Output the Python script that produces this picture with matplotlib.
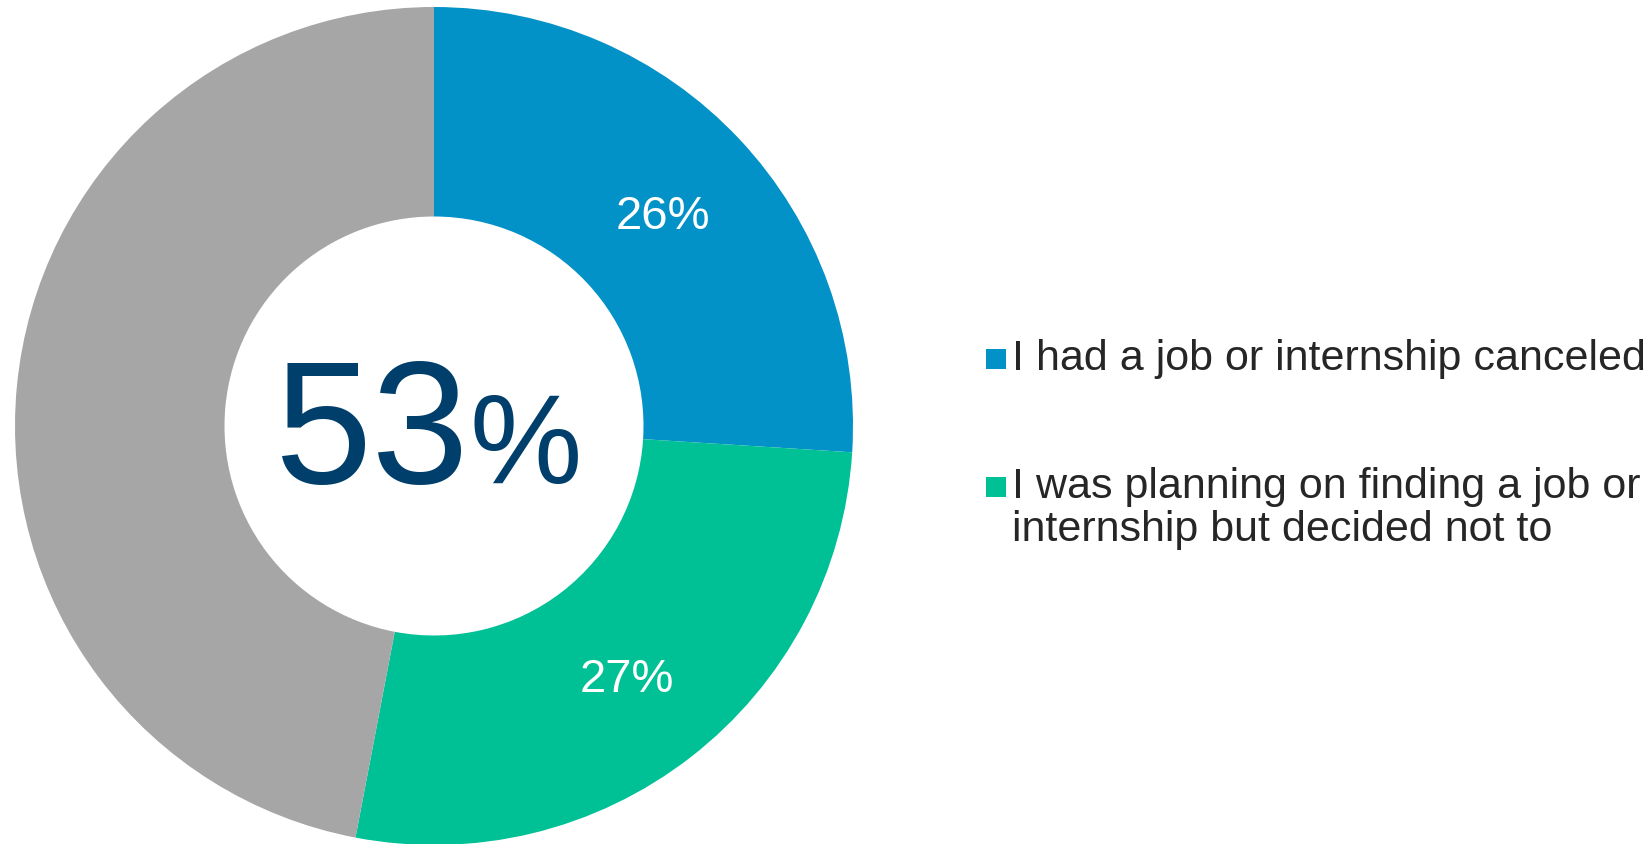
import matplotlib
matplotlib.use("Agg")
import matplotlib.pyplot as plt
from matplotlib.patches import Rectangle
import numpy as np

plt.rcParams['font.family'] = ['Liberation Sans', 'DejaVu Sans']

# Survey shares (percent)
categories = ["I had a job or internship canceled",
              "I was planning on finding a job or\ninternship but decided not to",
              "Other"]
shares = [26, 27, 47]
colors = ["#0392C8", "#00C096", "#A6A6A6"]
slice_labels = ["26%", "27%", ""]
total_affected = 53

W, H = 1650, 845
fig = plt.figure(figsize=(W / 100, H / 100), dpi=100)
fig.patch.set_facecolor("white")

# donut placed on the left: centre (434, 427) px, radius 419 px
cx, cy, r = 434, 427, 419
ax = fig.add_axes([(cx - r) / W, (H - cy - r) / H, 2 * r / W, 2 * r / H])
ax.pie(shares, colors=colors, startangle=90, counterclock=False,
       radius=1.0, wedgeprops=dict(width=0.5, linewidth=0))
ax.set_xlim(-1, 1)
ax.set_ylim(-1, 1)
ax.set_aspect("equal")
ax.axis("off")

# percentage labels on the coloured slices (baseline shifted by half the cap height)
label_size = 34
cap_half = 0.716 * label_size * 100 / 72 / 2 / r
cum = np.cumsum([0] + shares)
for i, lab in enumerate(slice_labels):
    if not lab:
        continue
    mid = (cum[i] + cum[i + 1]) / 2 / sum(shares) * 360
    theta = np.deg2rad(90 - mid)
    ax.text(0.75 * np.cos(theta), 0.75 * np.sin(theta) - cap_half, lab,
            ha="center", va="baseline", color="white", fontsize=label_size)

# centre figure: big number with smaller percent sign on a shared baseline
navy = "#003F6B"
ax.text(0.085, -0.1336, f"{total_affected}", ha="right", va="baseline",
        color=navy, fontsize=126)
ax.text(0.084, -0.1336, "%", ha="left", va="baseline", color=navy,
        fontsize=91)

# legend for the two highlighted slices
text_color = "#262626"
legend_baselines = [370, 498]
line_step = 43
sq = 20
for idx, base_y in enumerate(legend_baselines):
    fig.patches.append(Rectangle((986 / W, (H - base_y) / H), sq / W, sq / H,
                                 transform=fig.transFigure, facecolor=colors[idx],
                                 edgecolor="none"))
    for k, line in enumerate(categories[idx].split("\n")):
        y = base_y + k * line_step
        fig.text(1012 / W, (H - y) / H, line, ha="left", va="baseline",
                 fontsize=31, color=text_color)

fig.savefig("out.png", dpi=100, facecolor="white")
